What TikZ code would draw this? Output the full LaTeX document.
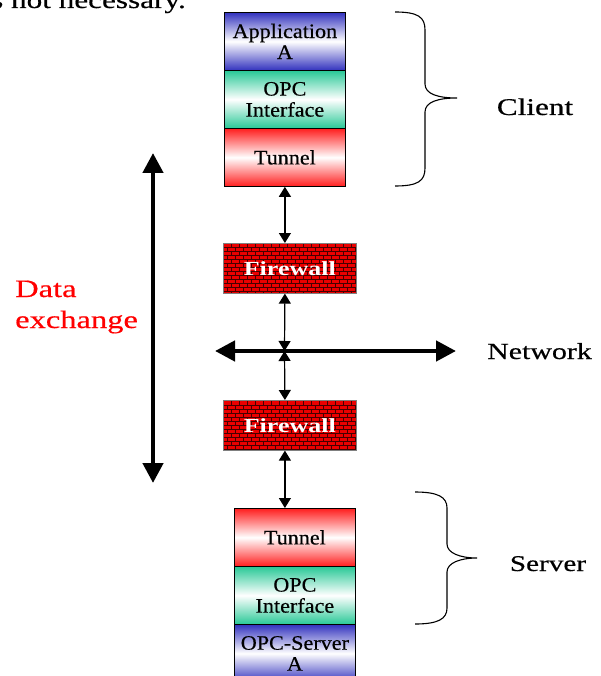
\documentclass[tikz,border=0pt]{standalone}
\usepackage{fontspec}
\setmainfont{Liberation Serif}
\newfontfamily\boxfont[FakeStretch=1.08,FakeBold=0.4]{Liberation Serif}
\newfontfamily\lblfont[FakeStretch=1.3,FakeBold=0.5]{Liberation Serif}
\newfontfamily\fwfont[FakeStretch=1.3]{Liberation Serif}
\usetikzlibrary{arrows.meta,calc}
\definecolor{appblue}{RGB}{50,50,190}
\definecolor{opcgreen}{RGB}{40,200,150}
\definecolor{tunred}{RGB}{255,30,30}
\definecolor{fwred}{RGB}{235,0,0}
\definecolor{brick}{RGB}{70,0,0}
\definecolor{dxred}{RGB}{255,0,0}
\begin{document}
\begin{tikzpicture}[x=1pt,y=-1pt,
  layer/.style={draw=black, line width=0.8pt, minimum width=121pt, minimum height=58pt,
    inner sep=0pt, anchor=north west, align=center,
    font=\boxfont\fontsize{20.5}{21}\selectfont},
  appbox/.style={layer, top color=appblue, bottom color=appblue, middle color=white},
  opcbox/.style={layer, top color=opcgreen, bottom color=opcgreen, middle color=white},
  tunbox/.style={layer, top color=tunred, bottom color=tunred, middle color=white},
  fw/.style={draw=black!50, line width=0.6pt, fill=fwred, minimum width=133pt, minimum height=50pt,
    inner sep=0pt, anchor=north west, text=white,
    font=\fwfont\bfseries\fontsize{20}{22}\selectfont,
    path picture={
      \foreach \i in {1,...,12}{
        \draw[brick, line width=0.4pt]
          ([yshift={-(\i*4+#1)*1pt}]path picture bounding box.north west) --
          ([yshift={-(\i*4+#1)*1pt}]path picture bounding box.north east);
      }
      \foreach \i in {0,...,12}{
        \pgfmathsetmacro{\off}{mod(\i,2)*4}
        \foreach \j in {0,...,17}{
          \draw[brick, line width=0.4pt]
            ([xshift={(\j*8+\off)*1pt}, yshift={-(\i*4+#1)*1pt}]path picture bounding box.north west) -- ++(0pt,-4pt);
        }
      }
    }},
  fw/.default=0,
  lbl/.style={anchor=base, inner sep=0pt, font=\lblfont\fontsize{23}{26}\selectfont},
  link/.style={{Triangle[length=10pt,width=12pt]}-{Triangle[length=10pt,width=12pt]}, line width=1.2pt},
  bigarrow/.style={{Triangle[length=20pt,width=20pt]}-{Triangle[length=20pt,width=20pt]}, line width=4.5pt},
  brace/.style={line width=1.1pt}
]
\path[use as bounding box] (0,0) rectangle (601,676);
\clip (0,0) rectangle (601,676);

% partial text at top
\node[anchor=base east, inner sep=0pt, font=\lblfont\fontsize{24}{28}\selectfont] (top) at (186,8) {is not necessary.};

% client stack
\node[appbox] (app) at (224,12) {Application\\A};
\node[opcbox] (opc1) at (224,70) {OPC\\Interface};
\node[tunbox] (tun1) at (224,128) {Tunnel};

% firewalls
\node[fw=0] (fw1) at (223,243) {Firewall};
\node[fw=1] (fw2) at (223,400) {Firewall};

% server stack
\node[tunbox] (tun2) at (234,508) {Tunnel};
\node[opcbox] (opc2) at (234,566) {OPC\\Interface};
\node[appbox] (srv) at (234,624) {OPC-Server\\A};

% network line
\coordinate (netL) at (215,351);
\coordinate (netR) at (456,351);
\coordinate (netC) at (284.5,351);
\draw[bigarrow] (netL) -- (netR);

% links
\draw[link] (tun1.south) -- (tun1.south |- fw1.north);
\draw[link] (tun1.south |- fw1.south) -- (netC);
\draw[link] (netC) -- (tun1.south |- fw2.north);
\draw[link] (tun1.south |- fw2.south) -- (tun1.south |- tun2.north);

% data exchange arrow
\coordinate (dxT) at (153,153);
\coordinate (dxB) at (153,483);
\draw[bigarrow] (dxT) -- (dxB);
\node[anchor=base west, inner sep=0pt, text=dxred, font=\lblfont\fontsize{25}{28}\selectfont] (dx1) at (15,297) {Data};
\node[anchor=base west, inner sep=0pt, text=dxred, font=\lblfont\fontsize{25}{28}\selectfont] (dx2) at (15,328) {exchange};

% braces
\draw[brace] (395,12) .. controls (418,12) and (425,17) .. (425,30) -- (425,84)
  .. controls (425,94) and (438,98) .. (457,98)
  .. controls (438,98) and (425,102) .. (425,112) -- (425,168)
  .. controls (425,181) and (418,186) .. (395,186);
\draw[brace] (415,492) .. controls (438,492) and (447,497) .. (447,508) -- (447,544)
  .. controls (447,553) and (460,558) .. (477,558)
  .. controls (460,558) and (447,563) .. (447,572) -- (447,608)
  .. controls (447,619) and (438,624) .. (415,624);

% labels
\node[lbl, font=\lblfont\fontsize{24}{26}\selectfont] (client) at (535,115) {Client};
\node[lbl] (network) at (539.5,359) {Network};
\node[lbl, font=\lblfont\fontsize{22.5}{26}\selectfont] (server) at (548,571) {Server};
\end{tikzpicture}
\end{document}
